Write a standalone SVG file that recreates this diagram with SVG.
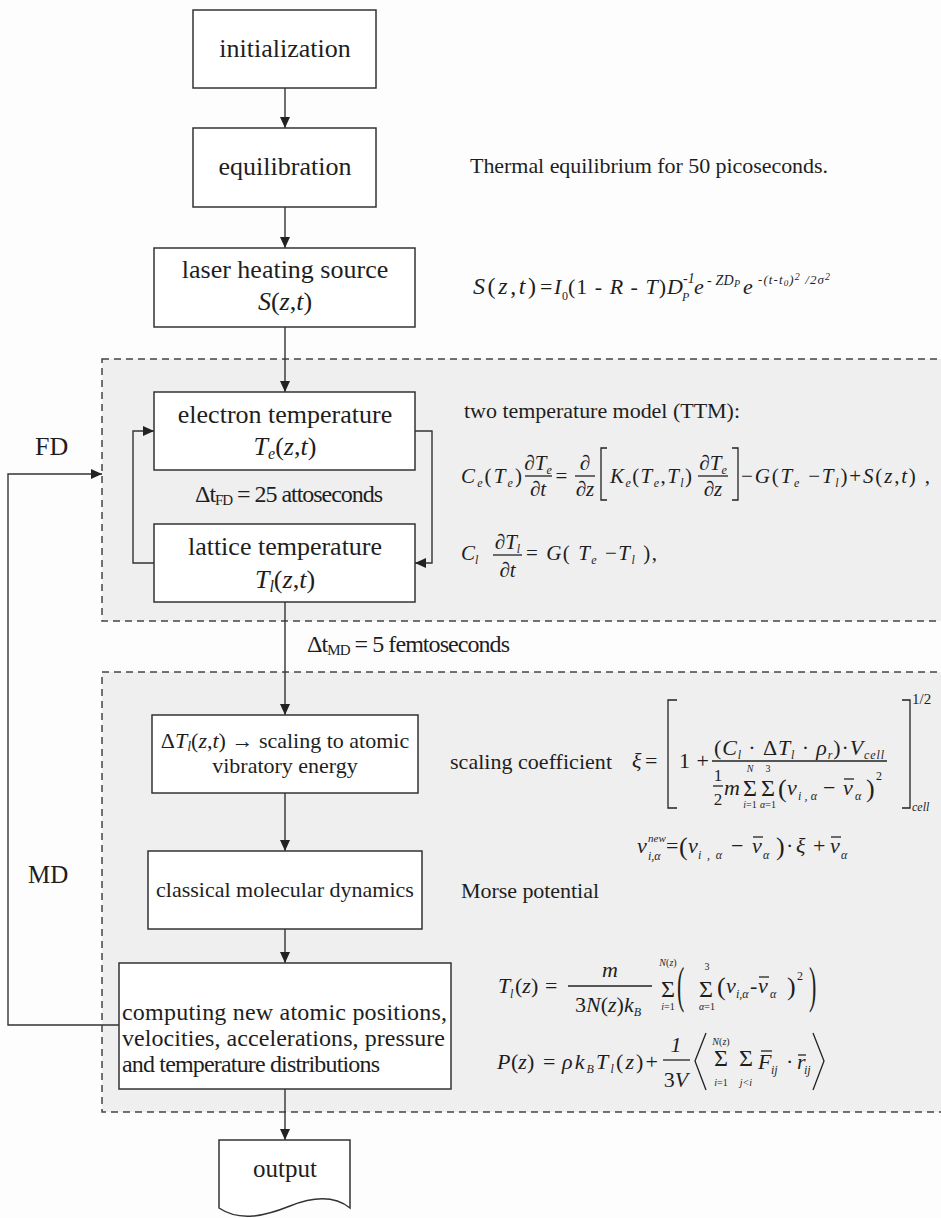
<svg xmlns="http://www.w3.org/2000/svg" width="941" height="1218" viewBox="0 0 941 1218">
<style>
text{font-family:'Liberation Serif','Tinos','Times New Roman','DejaVu Serif',serif;fill:#1e1e1e}
.i{font-style:italic}
.box{fill:#fff;stroke:#333;stroke-width:1.5}
.ln{stroke:#333;stroke-width:1.4;fill:none}
.dash{fill:#efefef;stroke:#444;stroke-width:1.5;stroke-dasharray:7 5}
.br{stroke:#222;stroke-width:1.3;fill:none}
.b26{font-size:26px}
.b22{font-size:22px}
.e21{font-size:21px}
.e22{font-size:22px}
.s14{font-size:14px}
.s12{font-size:12px}
.s11{font-size:11px}
.s10{font-size:10px}
.sg{font-size:24px}
</style>
<defs>
<marker id="ah" markerWidth="11" markerHeight="10" refX="11" refY="5" orient="auto" markerUnits="userSpaceOnUse"><path d="M0,0 L11,5 L0,10 z" fill="#222"/></marker>
</defs>
<rect x="0" y="0" width="941" height="1218" fill="#fdfdfd"/>
<g id="regions">
<rect class="dash" x="102" y="359" width="850" height="262"/>
<rect class="dash" x="102" y="672" width="850" height="440"/>
</g>
<g id="connectors">
<line class="ln" x1="285" y1="88" x2="285" y2="128" marker-end="url(#ah)"/>
<line class="ln" x1="285" y1="207" x2="285" y2="248" marker-end="url(#ah)"/>
<line class="ln" x1="285" y1="327" x2="285" y2="392" marker-end="url(#ah)"/>
<polyline class="ln" points="415,431 432,431 432,563 415,563" marker-end="url(#ah)"/>
<polyline class="ln" points="154,563 133,563 133,431 154,431" marker-end="url(#ah)"/>
<line class="ln" x1="285" y1="602" x2="285" y2="715" marker-end="url(#ah)"/>
<line class="ln" x1="285" y1="793" x2="285" y2="851" marker-end="url(#ah)"/>
<line class="ln" x1="285" y1="929" x2="285" y2="963" marker-end="url(#ah)"/>
<line class="ln" x1="285" y1="1089" x2="285" y2="1140" marker-end="url(#ah)"/>
<polyline class="ln" points="119,1025 8,1025 8,474 102,474" marker-end="url(#ah)"/>
</g>
<g id="init">
<rect class="box" x="193" y="10" width="183" height="78"/>
<text class="b26" x="285" y="57" text-anchor="middle">initialization</text>
</g>
<g id="equil">
<rect class="box" x="193" y="128" width="183" height="79"/>
<text class="b26" x="285" y="175" text-anchor="middle">equilibration</text>
</g>
<g id="laser">
<rect class="box" x="154" y="248" width="261" height="79"/>
<text class="b26" x="285" y="278" text-anchor="middle">laser heating source</text>
<text class="b26" x="285" y="310" text-anchor="middle"><tspan class="i">S</tspan>(<tspan class="i">z</tspan>,<tspan class="i">t</tspan>)</text>
</g>
<g id="electron">
<rect class="box" x="154" y="392" width="261" height="78"/>
<text class="b26" x="285" y="423" text-anchor="middle">electron temperature</text>
<text class="b26" x="285" y="455" text-anchor="middle"><tspan class="i">T</tspan><tspan class="i" font-size="16" dy="4">e</tspan><tspan dy="-4">(</tspan><tspan class="i">z</tspan>,<tspan class="i">t</tspan>)</text>
</g>
<g id="lattice">
<rect class="box" x="154" y="524" width="261" height="78"/>
<text class="b26" x="285" y="555" text-anchor="middle">lattice temperature</text>
<text class="b26" x="285" y="588" text-anchor="middle"><tspan class="i">T</tspan><tspan class="i" font-size="16" dy="4">l</tspan><tspan dy="-4">(</tspan><tspan class="i">z</tspan>,<tspan class="i">t</tspan>)</text>
</g>
<g id="scaling">
<rect class="box" x="152" y="715" width="266" height="78"/>
<text class="b22" x="285" y="748" text-anchor="middle">Δ<tspan class="i">T</tspan><tspan class="i" font-size="14" dy="3">l</tspan><tspan dy="-3">(</tspan><tspan class="i">z</tspan>,<tspan class="i">t</tspan>) → scaling to atomic</text>
<text class="b22" x="285" y="773" text-anchor="middle">vibratory energy</text>
</g>
<g id="cmd">
<rect class="box" x="148" y="851" width="274" height="78"/>
<text class="b22" x="285" y="897" text-anchor="middle">classical molecular dynamics</text>
</g>
<g id="computing">
<rect class="box" x="119" y="963" width="332" height="126"/>
<text font-size="24" x="122" y="1020" textLength="325">computing new atomic positions,</text>
<text font-size="24" x="122" y="1046" textLength="323">velocities, accelerations, pressure</text>
<text font-size="24" x="122" y="1072" textLength="258">and temperature distributions</text>
</g>
<g id="output">
<path class="box" d="M219,1140 H350 V1208 C335,1196 315,1196 290,1206 C265,1216 240,1222 219,1208 Z"/>
<text font-size="25" x="285" y="1177" text-anchor="middle">output</text>
</g>
<g id="labels">
<text class="b26" x="35" y="455">FD</text>
<text font-size="25" x="28" y="883">MD</text>
<text font-size="24" x="195" y="502" textLength="188">Δt<tspan font-size="15" dy="3">FD</tspan><tspan dy="-3"> = 25 attoseconds</tspan></text>
<text font-size="24" x="307" y="652" textLength="203">Δt<tspan font-size="15" dy="3">MD</tspan><tspan dy="-3"> = 5 femtoseconds</tspan></text>
<text class="e22" x="470" y="173" textLength="358">Thermal equilibrium for 50 picoseconds.</text>
<text class="e22" x="464" y="418" textLength="276">two temperature model (TTM):</text>
<text class="e22" x="450" y="769" textLength="162">scaling coefficient</text>
<text class="e22" x="461" y="898" textLength="138">Morse potential</text>
</g>
<g id="eq-source">
<text font-size="24" x="473" y="294" textLength="63"><tspan class="i">S</tspan>(<tspan class="i">z</tspan>,<tspan class="i">t</tspan>)</text>
<text class="e22" x="540" y="294">=</text>
<text class="e22 i" x="554" y="294">I</text>
<text class="s12" x="562" y="300">0</text>
<text class="e22" x="568" y="294" textLength="98">(1 - <tspan class="i">R</tspan> - <tspan class="i">T</tspan>)</text>
<text class="e22 i" x="667" y="294">D</text>
<text class="s12 i" x="682" y="301">P</text>
<text class="s14 i" x="683" y="283">-1</text>
<text class="e22 i" x="694" y="294">e</text>
<text class="s14 i" x="707" y="285" textLength="33">- ZD<tspan font-size="10" dy="2">P</tspan></text>
<text class="e22 i" x="743" y="294">e</text>
<text class="i" font-size="13" x="758" y="284" textLength="72">-(t-t<tspan font-size="9" dy="2">0</tspan><tspan dy="-2">)</tspan><tspan font-size="10" dy="-4">2</tspan><tspan dy="4"> /2σ</tspan><tspan font-size="10" dy="-4">2</tspan></text>
</g>
<g id="eq-ttm1">
<text class="e21" x="461" y="483" textLength="61"><tspan class="i">C</tspan><tspan class="i s12" dy="4">e</tspan><tspan dy="-4">(</tspan><tspan class="i">T</tspan><tspan class="i s12" dy="4">e</tspan><tspan dy="-4">)</tspan></text>
<text class="e21" x="538" y="470" text-anchor="middle">∂<tspan class="i">T</tspan><tspan class="i s12" dy="4">e</tspan></text>
<line class="br" x1="525" y1="476" x2="552" y2="476"/>
<text class="e21" x="538" y="496" text-anchor="middle">∂<tspan class="i">t</tspan></text>
<text class="e21" x="561.5" y="483" text-anchor="middle">=</text>
<text class="e21" x="585" y="470" text-anchor="middle">∂</text>
<line class="br" x1="575" y1="476" x2="595" y2="476"/>
<text class="e21" x="585" y="496" text-anchor="middle">∂<tspan class="i">z</tspan></text>
<polyline class="br" points="607,448 601,448 601,500 607,500"/>
<text class="e21" x="610" y="483" textLength="82"><tspan class="i">K</tspan><tspan class="i s12" dy="4">e</tspan><tspan dy="-4">(</tspan><tspan class="i">T</tspan><tspan class="i s12" dy="4">e</tspan><tspan dy="-4">,</tspan><tspan class="i">T</tspan><tspan class="i s12" dy="4">l</tspan><tspan dy="-4">)</tspan></text>
<text class="e21" x="713" y="470" text-anchor="middle">∂<tspan class="i">T</tspan><tspan class="i s12" dy="4">e</tspan></text>
<line class="br" x1="698" y1="476" x2="728" y2="476"/>
<text class="e21" x="713" y="496" text-anchor="middle">∂<tspan class="i">z</tspan></text>
<polyline class="br" points="732,448 738,448 738,500 732,500"/>
<text class="e21" x="741" y="483" textLength="189">−<tspan class="i">G</tspan>(<tspan class="i">T</tspan><tspan class="i s12" dy="4">e</tspan><tspan dy="-4"> −</tspan><tspan class="i">T</tspan><tspan class="i s12" dy="4">l</tspan><tspan dy="-4">)+</tspan><tspan class="i">S</tspan>(<tspan class="i">z</tspan>,<tspan class="i">t</tspan>) ,</text>
</g>
<g id="eq-ttm2">
<text class="e21" x="461" y="560"><tspan class="i">C</tspan><tspan class="i s12" dy="4">l</tspan></text>
<text class="e21" x="507.5" y="549" text-anchor="middle">∂<tspan class="i">T</tspan><tspan class="i s12" dy="4">l</tspan></text>
<line class="br" x1="493" y1="555" x2="522" y2="555"/>
<text class="e21" x="507.5" y="577" text-anchor="middle">∂<tspan class="i">t</tspan></text>
<text class="e21" x="526" y="560" textLength="131">= <tspan class="i">G</tspan>( <tspan class="i">T</tspan><tspan class="i s12" dy="4">e</tspan><tspan dy="-4"> −</tspan><tspan class="i">T</tspan><tspan class="i s12" dy="4">l</tspan><tspan dy="-4"> ),</tspan></text>
</g>
<g id="eq-xi">
<text class="e22 i" x="632" y="768">ξ</text>
<text class="e22" x="645" y="768">=</text>
<polyline class="br" points="677,700 668,700 668,808 677,808"/>
<text class="e22" x="679" y="768" textLength="30">1+</text>
<line class="br" x1="712" y1="761" x2="887" y2="761"/>
<text class="e22" x="714" y="755" textLength="170">(<tspan class="i">C</tspan><tspan class="i s12" dy="4">l</tspan><tspan dy="-4"> · Δ</tspan><tspan class="i">T</tspan><tspan class="i s12" dy="4">l</tspan><tspan dy="-4"> · </tspan><tspan class="i">ρ</tspan><tspan class="i s12" dy="4">r</tspan><tspan dy="-4">)·</tspan><tspan class="i">V</tspan><tspan class="i s12" dy="4">cell</tspan></text>
<text font-size="17" x="718" y="781" text-anchor="middle">1</text>
<line class="br" x1="713" y1="786" x2="723" y2="786"/>
<text font-size="17" x="718" y="805" text-anchor="middle">2</text>
<text class="e22 i" x="724" y="795">m</text>
<text class="sg" x="743" y="796">Σ</text>
<text class="s10 i" x="750" y="772" text-anchor="middle">N</text>
<text class="s10" x="750" y="808" text-anchor="middle"><tspan class="i">i</tspan>=1</text>
<text class="sg" x="761" y="796">Σ</text>
<text class="s10" x="768" y="772" text-anchor="middle">3</text>
<text class="s10" x="768" y="808" text-anchor="middle"><tspan class="i">α</tspan>=1</text>
<text font-size="26" x="778" y="797">(</text>
<text class="e22 i" x="787" y="795">v</text>
<text class="s12 i" x="798" y="800" textLength="19">i,α</text>
<text class="e22" x="823" y="795">−</text>
<text class="e22 i" x="843" y="795">v</text>
<line class="br" x1="844" y1="779" x2="854" y2="779"/>
<text class="s12 i" x="855" y="800">α</text>
<text font-size="26" x="866" y="797">)</text>
<text class="s12" x="876" y="780">2</text>
<polyline class="br" points="902,700 910,700 910,808 902,808"/>
<text font-size="15" x="912" y="704">1/2</text>
<text class="s12 i" x="912" y="811">cell</text>
</g>
<g id="eq-vnew">
<text class="e22 i" x="637" y="853">v</text>
<text class="i s11" x="648" y="842">new</text>
<text class="s12 i" x="648" y="860">i,α</text>
<text class="e22" x="666" y="853">=</text>
<text font-size="26" x="679" y="855">(</text>
<text class="e22 i" x="688" y="853">v</text>
<text class="s12 i" x="698" y="859" textLength="24">i,α</text>
<text class="e22" x="731" y="853">−</text>
<text class="e22 i" x="752" y="853">v</text>
<line class="br" x1="753" y1="837" x2="763" y2="837"/>
<text class="s12 i" x="763" y="859">α</text>
<text font-size="26" x="776" y="855">)</text>
<text class="e22" x="786" y="853">·</text>
<text class="e22 i" x="796" y="853">ξ</text>
<text class="e22" x="813" y="853">+</text>
<text class="e22 i" x="830" y="853">v</text>
<line class="br" x1="831" y1="837" x2="841" y2="837"/>
<text class="s12 i" x="841" y="859">α</text>
</g>
<g id="eq-tl">
<text class="e22 i" x="498" y="993">T</text>
<text class="s12 i" x="510" y="998">l</text>
<text class="e22" x="515" y="993">(<tspan class="i">z</tspan>)</text>
<text class="e22" x="545" y="993">=</text>
<text class="e22 i" x="610" y="977" text-anchor="middle">m</text>
<line class="br" x1="568" y1="986" x2="652" y2="986"/>
<text class="e22" x="608" y="1012" text-anchor="middle">3<tspan class="i">N</tspan>(<tspan class="i">z</tspan>)<tspan class="i">k</tspan><tspan class="i s12" dy="4">B</tspan></text>
<text class="sg" x="661" y="997">Σ</text>
<text class="s10" x="668" y="966" text-anchor="middle"><tspan class="i">N</tspan>(<tspan class="i">z</tspan>)</text>
<text class="s10" x="668" y="1010" text-anchor="middle"><tspan class="i">i</tspan>=1</text>
<text class="e22" transform="translate(677,1002) scale(1,2.3)">(</text>
<text class="sg" x="699" y="997">Σ</text>
<text class="s10" x="707" y="970" text-anchor="middle">3</text>
<text class="s10" x="707" y="1010" text-anchor="middle"><tspan class="i">α</tspan>=1</text>
<text font-size="26" x="717" y="995">(</text>
<text class="e22 i" x="726" y="993">v</text>
<text class="s12 i" x="736" y="998">i,α</text>
<text class="e22" x="750" y="993">-</text>
<text class="e22 i" x="758" y="993">v</text>
<line class="br" x1="759" y1="977" x2="769" y2="977"/>
<text class="s12 i" x="770" y="998">α</text>
<text font-size="26" x="787" y="995">)</text>
<text class="s12" x="797" y="980">2</text>
<text class="e22" transform="translate(809,1002) scale(1,2.3)">)</text>
</g>
<g id="eq-p">
<text class="e22 i" x="497" y="1069">P</text>
<text class="e22" x="511" y="1069">(<tspan class="i">z</tspan>)</text>
<text class="e22" x="543" y="1069">=</text>
<text class="e22" x="562" y="1069" textLength="96"><tspan class="i">ρk</tspan><tspan class="i s12" dy="4">B</tspan><tspan class="i" dy="-4">T</tspan><tspan class="i s12" dy="4">l</tspan><tspan dy="-4">(</tspan><tspan class="i">z</tspan>)+</text>
<text class="e22 i" x="676" y="1052" text-anchor="middle">1</text>
<line class="br" x1="663" y1="1060" x2="690" y2="1060"/>
<text class="e22" x="676" y="1087" text-anchor="middle">3<tspan class="i">V</tspan></text>
<polyline class="br" points="706,1033 695,1061 706,1090"/>
<text class="sg" x="714" y="1066">Σ</text>
<text class="s10" x="721" y="1045" text-anchor="middle"><tspan class="i">N</tspan>(<tspan class="i">z</tspan>)</text>
<text class="s10" x="721" y="1086" text-anchor="middle"><tspan class="i">i</tspan>=1</text>
<text class="sg" x="739" y="1066">Σ</text>
<text class="s10 i" x="746" y="1086" text-anchor="middle">j&lt;i</text>
<text class="e22 i" x="758" y="1069">F</text>
<line class="br" x1="761" y1="1051" x2="772" y2="1051"/>
<text class="s12 i" x="771" y="1074">ij</text>
<text class="e22" x="786" y="1069">·</text>
<text class="e22 i" x="797" y="1069">r</text>
<line class="br" x1="798" y1="1055" x2="806" y2="1055"/>
<text class="s12 i" x="804" y="1074">ij</text>
<polyline class="br" points="813,1033 824,1061 813,1090"/>
</g>
</svg>
